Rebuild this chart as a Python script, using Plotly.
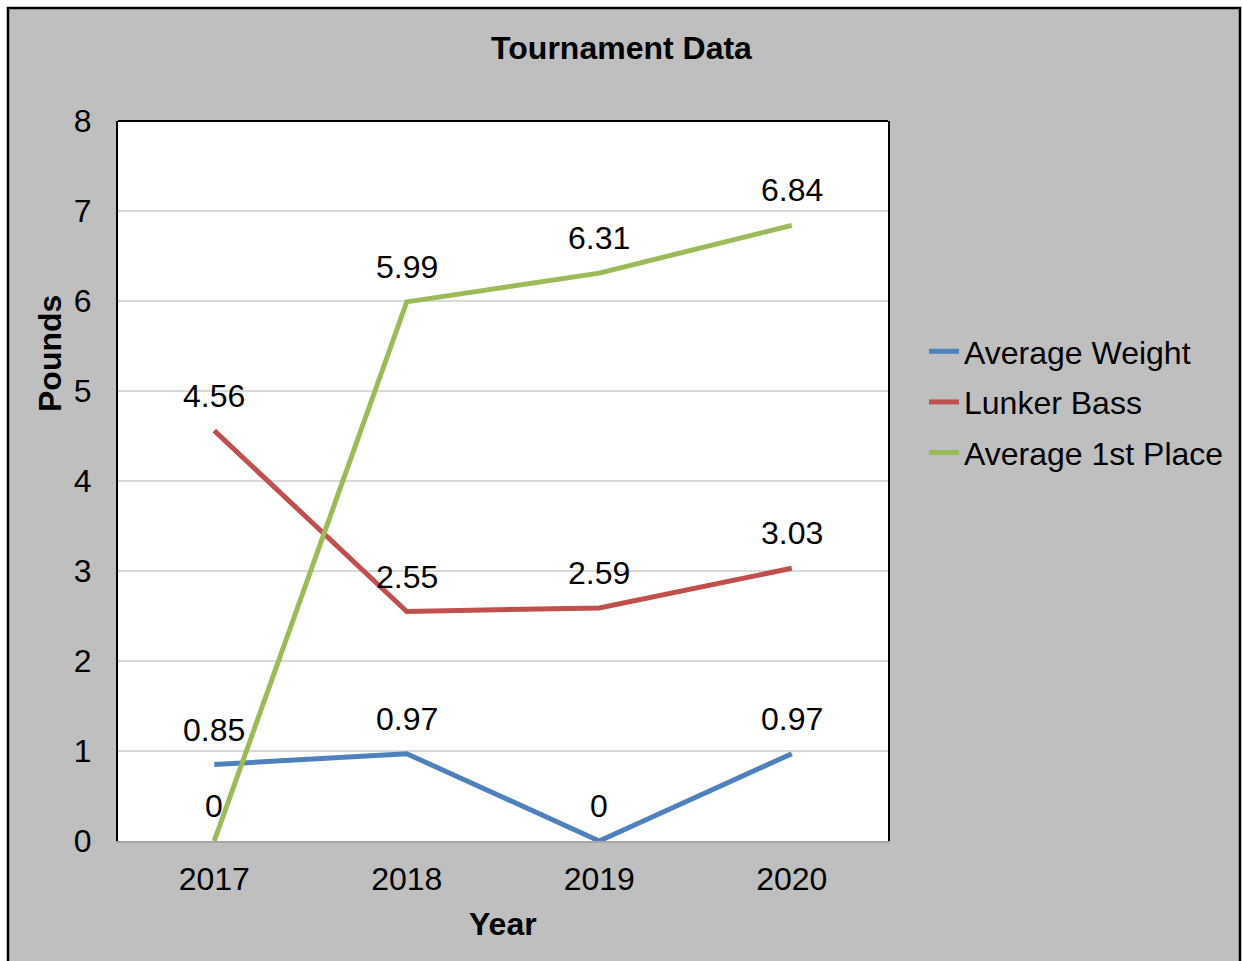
import plotly.graph_objects as go

years = ["2017", "2018", "2019", "2020"]
series_names = ["Average Weight", "Lunker Bass", "Average 1st Place"]
avg_weight = [0.85, 0.97, 0, 0.97]
lunker_bass = [4.56, 2.55, 2.59, 3.03]
avg_first = [0, 5.99, 6.31, 6.84]
y_ticks = [0, 1, 2, 3, 4, 5, 6, 7, 8]

series_values = [avg_weight, lunker_bass, avg_first]
colors = ["#4F81BD", "#C0504D", "#9BBB59"]

W, H = 1243, 961
L, R, T, B = 118, 888, 121, 841
FONT = "Liberation Sans, Arial, sans-serif"
FS = 32


def px_x(p):
    return (p - L) / (R - L)


def px_y(p):
    return (B - p) / (B - T)


fig = go.Figure()
for i, (name, vals, col) in enumerate(zip(series_names, series_values, colors)):
    fig.add_trace(go.Scatter(
        x=years, y=vals, name=name, mode="lines",
        line=dict(color=col, width=5),
        legendgroup=name,
    ))

annotations = []
for vals in series_values:
    for idx, v in enumerate(vals):
        annotations.append(dict(
            x=idx, y=v, xref="x", yref="y", text=f"{v:g}", showarrow=False,
            yshift=35, yanchor="middle", xanchor="center",
            font=dict(family=FONT, size=FS, color="black"),
        ))

annotations.append(dict(
    x=px_x(50), y=px_y(354), xref="paper", yref="paper", text="<b>Pounds</b>",
    textangle=-90, showarrow=False, xanchor="center", yanchor="middle",
    font=dict(family=FONT, size=FS, color="black"),
))
annotations.append(dict(
    x=0.5, y=px_y(924), xref="paper", yref="paper", text="<b>Year</b>",
    showarrow=False, xanchor="center", yanchor="middle",
    font=dict(family=FONT, size=FS, color="black"),
))

shapes = [
    dict(type="rect", xref="paper", yref="paper", layer="below",
         x0=px_x(8), x1=px_x(1240), y0=px_y(975), y1=px_y(8),
         fillcolor="#BFBFBF", line=dict(color="black", width=2.5)),
    dict(type="rect", xref="paper", yref="paper", layer="below",
         x0=0, x1=1, y0=0, y1=1, fillcolor="white", line=dict(width=0)),
    dict(type="line", xref="paper", yref="paper", layer="above",
         x0=0, x1=1, y0=1, y1=1, line=dict(color="black", width=2)),
]

fig.update_layout(
    width=W, height=H,
    margin=dict(l=L, r=W - R, t=T, b=H - B),
    paper_bgcolor="white", plot_bgcolor="white",
    font=dict(family=FONT, size=FS, color="black"),
    title=dict(text="<b>Tournament Data</b>", x=0.5, xanchor="center",
               y=1 - 48 / H, yanchor="middle", yref="container",
               font=dict(family=FONT, size=FS, color="black")),
    xaxis=dict(type="category", range=[-0.5, 3.5], showgrid=False,
               showline=True, linecolor="#A6A6A6", linewidth=2,
               ticks="", ticklabelstandoff=9, zeroline=False,
               tickfont=dict(family=FONT, size=FS, color="black")),
    yaxis=dict(range=[0, 8], tickvals=y_ticks, showgrid=True,
               gridcolor="#D9D9D9", gridwidth=1.5,
               showline=True, linecolor="black", linewidth=2, mirror=True,
               ticks="", ticklabelstandoff=18, zeroline=False,
               tickfont=dict(family=FONT, size=FS, color="black")),
    legend=dict(x=px_x(924), xanchor="left", y=px_y(402), yanchor="middle",
                bgcolor="rgba(0,0,0,0)", tracegroupgap=6,
                font=dict(family=FONT, size=FS, color="black")),
    annotations=annotations,
    shapes=shapes,
)

fig.write_html("out.html", config={"displayModeBar": False},
               post_script="document.body.style.margin='0px';")
